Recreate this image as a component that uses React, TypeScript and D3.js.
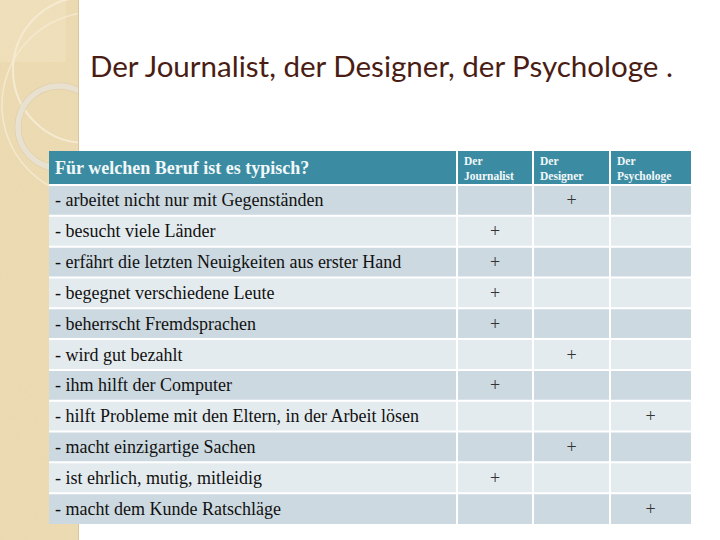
import React, { useMemo } from 'react';
import * as d3 from 'd3';

const W = 720;
const H = 540;

// table content
const titleText = 'Der Journalist, der Designer, der Psychologe .';
const questionLabel = 'Für welchen Beruf ist es typisch?';
const professions = ['Der Journalist', 'Der Designer', 'Der Psychologe'];
const statements = [
  '- arbeitet nicht nur mit Gegenständen',
  '- besucht viele Länder',
  '- erfährt die letzten Neuigkeiten aus erster Hand',
  '- begegnet verschiedene Leute',
  '- beherrscht Fremdsprachen',
  '- wird gut bezahlt',
  '- ihm hilft der Computer',
  '- hilft Probleme mit den Eltern, in der Arbeit lösen',
  '- macht einzigartige Sachen',
  '- ist ehrlich, mutig, mitleidig',
  '- macht dem Kunde Ratschläge',
];
// which profession gets the "+" for each statement
const answers = [
  'Der Designer',
  'Der Journalist',
  'Der Journalist',
  'Der Journalist',
  'Der Journalist',
  'Der Designer',
  'Der Journalist',
  'Der Psychologe',
  'Der Designer',
  'Der Journalist',
  'Der Psychologe',
];

const App = () => {
  const layout = useMemo(() => {
    const left = 49;
    const right = 691;
    const top = 151;
    const headerBottom = 185;
    const bottom = 524;
    const firstColRight = 457;

    const rowScale = d3.scaleBand<number>()
      .domain(d3.range(statements.length))
      .range([headerBottom, bottom]);

    // profession columns are slightly uneven in the original
    const colEdges = d3.scaleOrdinal<string, [number, number]>()
      .domain(professions)
      .range([[firstColRight, 533], [533, 610], [610, right]]);

    return { left, right, top, headerBottom, bottom, firstColRight, rowScale, colEdges };
  }, []);

  const { left, right, top, headerBottom, bottom, firstColRight, rowScale, colEdges } = layout;
  const serif = 'Liberation Serif';

  return (
    <svg
      width={W}
      height={H}
      viewBox={`0 0 ${W} ${H}`}
      style={{ position: 'absolute', left: 0, top: 0, background: '#ffffff' }}
    >
      <defs>
        <filter id="grain" x="0" y="0" width="100%" height="100%">
          <feTurbulence type="fractalNoise" baseFrequency="0.9" numOctaves="2" seed="3" result="noise" />
          <feColorMatrix
            in="noise"
            type="matrix"
            values="0 0 0 0 0.55  0 0 0 0 0.45  0 0 0 0 0.25  0 0 0 0.35 0"
          />
        </filter>
        <clipPath id="strip">
          <rect x="0" y="0" width="79" height={H} />
        </clipPath>
        <filter id="soft">
          <feGaussianBlur stdDeviation="0.6" />
        </filter>
      </defs>

      {/* Decorative beige strip on the left */}
      <g clipPath="url(#strip)">
        <rect x="0" y="0" width="79" height={H} fill="#eedcb4" />
        <rect x="0" y="0" width="79" height={H} filter="url(#grain)" opacity="0.3" />
        <rect x="0" y="0" width="66" height="62" fill="#f1e3c2" opacity="0.5" />
        <circle cx="95" cy="105" r="93" fill="none" stroke="#f4e9cf" strokeWidth="1.5" filter="url(#soft)" />
        <circle cx="86" cy="70" r="73" fill="none" stroke="#f5ebd2" strokeWidth="2" filter="url(#soft)" />
        <circle cx="59" cy="127" r="41" fill="none" stroke="#d6c6a4" strokeWidth="7" opacity="0.5" filter="url(#soft)" />
        <circle cx="59" cy="127" r="41" fill="none" stroke="#e9e1d0" strokeWidth="5.5" />
        <line x1="78.5" y1="0" x2="78.5" y2={H} stroke="#d8c59c" strokeWidth="1" />
      </g>

      {/* Title */}
      <text
        x={90}
        y={77}
        fill="#4a1d14"
        fontFamily="Lato, sans-serif"
        fontSize={29}
        textLength={583}
        lengthAdjust="spacingAndGlyphs"
        style={{ whiteSpace: 'pre' }}
      >
        {titleText}
      </text>

      {/* Header row */}
      <rect x={left} y={top} width={right - left} height={headerBottom - top} fill="#3b8ca2" />
      <text x={left + 6} y={174} fill="#f2f8fa" style={{ fontFamily: serif }} fontWeight="bold" fontSize={18}>
        {questionLabel}
      </text>
      {professions.map(p => {
        const [x0] = colEdges(p);
        const [line1, line2] = p.split(' ');
        return (
          <text key={p} x={x0 + 7} fill="#f2f8fa" style={{ fontFamily: serif }} fontWeight="bold" fontSize={11.5}>
            <tspan x={x0 + 7} y={165}>{line1}</tspan>
            <tspan x={x0 + 7} y={180}>{line2}</tspan>
          </text>
        );
      })}

      {/* Body rows */}
      {statements.map((s, i) => {
        const y = rowScale(i) as number;
        const h = rowScale.bandwidth();
        const fill = i % 2 === 0 ? '#cdd9e0' : '#e4ebee';
        return (
          <g key={s}>
            <rect x={left} y={y} width={right - left} height={h} fill={fill} />
            <text x={left + 6} y={y + h / 2 + 6} fill="#111" style={{ fontFamily: serif }} fontSize={18}>
              {s}
            </text>
          </g>
        );
      })}

      {/* White grid lines */}
      {d3.range(statements.length).map(i => {
        const y = i === 0 ? headerBottom : (rowScale(i - 1) as number) + rowScale.bandwidth();
        return (
          <line key={`h${i}`} x1={left} x2={right} y1={y} y2={y} stroke="#ffffff" strokeWidth={2} />
        );
      })}
      {[firstColRight, ...professions.slice(1).map(p => colEdges(p)[0])].map(x => (
        <line key={`v${x}`} x1={x} x2={x} y1={top} y2={bottom} stroke="#ffffff" strokeWidth={2} />
      ))}

      {/* Plus marks */}
      {answers.map((a, i) => {
        const [x0, x1] = colEdges(a);
        const cy = (rowScale(i) as number) + rowScale.bandwidth() / 2;
        return (
          <text
            key={`p${i}`}
            x={(x0 + x1) / 2}
            y={cy + 6}
            textAnchor="middle"
            fill="#333"
            style={{ fontFamily: serif }}
            fontSize={18}
          >
            +
          </text>
        );
      })}
    </svg>
  );
};

export default App;
